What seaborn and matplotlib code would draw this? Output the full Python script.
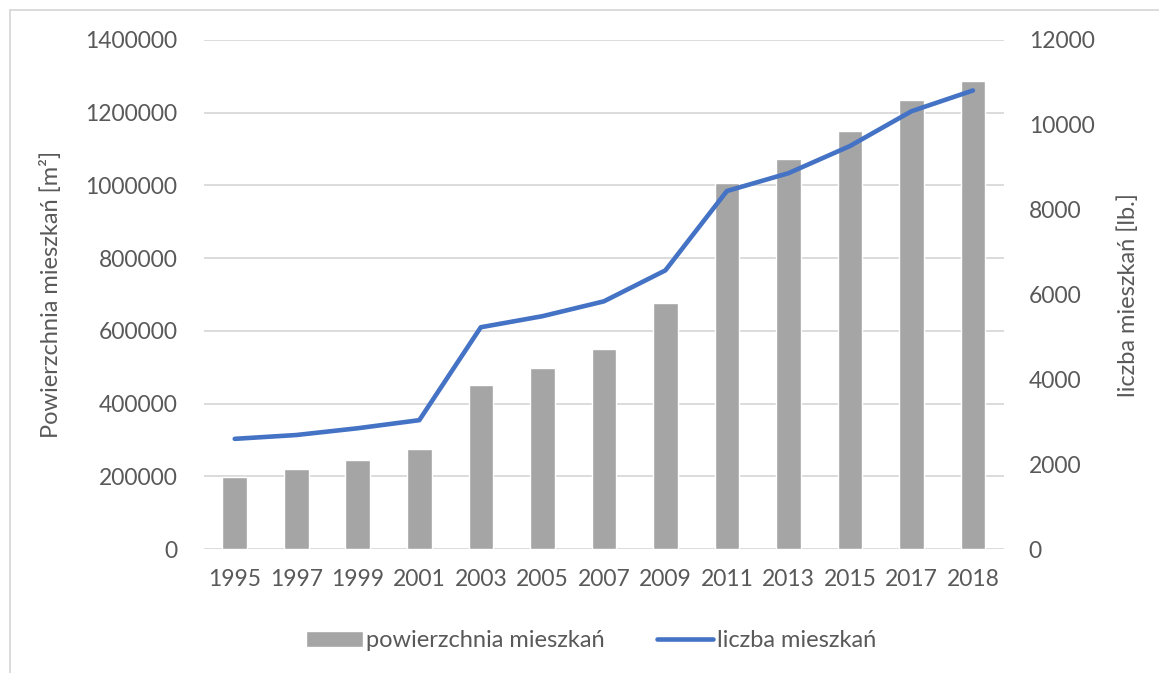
import numpy as np
import pandas as pd
import matplotlib
matplotlib.use("Agg")
import matplotlib.pyplot as plt
import seaborn as sns
from matplotlib.lines import Line2D
from matplotlib.patches import Patch
from matplotlib.ticker import FuncFormatter

# data
years = ["1995", "1997", "1999", "2001", "2003", "2005", "2007",
         "2009", "2011", "2013", "2015", "2017", "2018"]
area = [198000, 220000, 245000, 275000, 451000, 498000, 550000,
        677000, 1006000, 1074000, 1150000, 1234000, 1287000]
count = [2600, 2690, 2850, 3040, 5230, 5490, 5840,
         6570, 8440, 8860, 9500, 10320, 10810]

df = pd.DataFrame({"rok": years, "powierzchnia": area, "liczba": count})
df["pos"] = np.arange(len(df))

sns.set_style("white")
plt.rcParams["font.family"] = ["Lato", "DejaVu Sans"]
text_col = "#595959"
grid_col = "#D9D9D9"

fig = plt.figure(figsize=(11.59, 6.73), dpi=100)
ax = fig.add_axes([0.176, 0.184, 0.690, 0.7566])

sns.barplot(data=df, x="rok", y="powierzchnia", color="#A5A5A5",
            saturation=1, width=0.4, ax=ax)
ax.set_xlim(-0.5, len(years) - 0.5)
ax.set_ylim(0, 1400000)
ax.set_yticks(range(0, 1400001, 200000))
ax.yaxis.set_major_formatter(FuncFormatter(lambda v, p: f"{v:.0f}"))
ax.grid(axis="y", color=grid_col, linewidth=1.3)
ax.set_axisbelow(True)
for s in ax.spines.values():
    s.set_visible(False)
ax.tick_params(axis="both", length=0, labelsize=16.5, colors=text_col)
ax.tick_params(axis="y", pad=19)
ax.tick_params(axis="x", pad=14)
ax.set_xlabel("")
ax.set_ylabel("Powierzchnia mieszkań [m²]", fontsize=17, color=text_col)
ax.yaxis.set_label_coords(-0.1775, 0.5)

ax2 = ax.twinx()
sns.lineplot(data=df, x="pos", y="liczba", color="#4472C4", linewidth=3.3,
             ax=ax2, solid_capstyle="round", solid_joinstyle="round")
ax2.set_xlim(-0.5, len(years) - 0.5)
ax2.set_ylim(0, 12000)
ax2.set_yticks(range(0, 12001, 2000))
ax2.yaxis.set_major_formatter(FuncFormatter(lambda v, p: f"{v:.0f}"))
for s in ax2.spines.values():
    s.set_visible(False)
ax2.tick_params(axis="y", length=0, labelsize=16.5, colors=text_col, pad=18)
ax2.set_ylabel("liczba mieszkań [lb.]", fontsize=17, color=text_col)
ax2.yaxis.set_label_coords(1.1425, 0.5)
ax2.set_xlabel("")

handles = [Patch(facecolor="#A5A5A5"),
           Line2D([0], [0], color="#4472C4", linewidth=3.3, solid_capstyle="round")]
fig.legend(handles, ["powierzchnia mieszkań", "liczba mieszkań"],
           loc="center", bbox_to_anchor=(0.51, 0.048), ncol=2, frameon=False,
           fontsize=17, labelcolor=text_col, handlelength=2.4,
           handletextpad=0.15, columnspacing=2.2)

# outer chart frame
fig.add_artist(Line2D([10 / 1159, 1.0], [1 - 10 / 673, 1 - 10 / 673],
                      color=grid_col, linewidth=1.3))
fig.add_artist(Line2D([10 / 1159, 10 / 1159], [0.0, 1 - 10 / 673],
                      color=grid_col, linewidth=1.3))

fig.savefig("out.png", dpi=100)
